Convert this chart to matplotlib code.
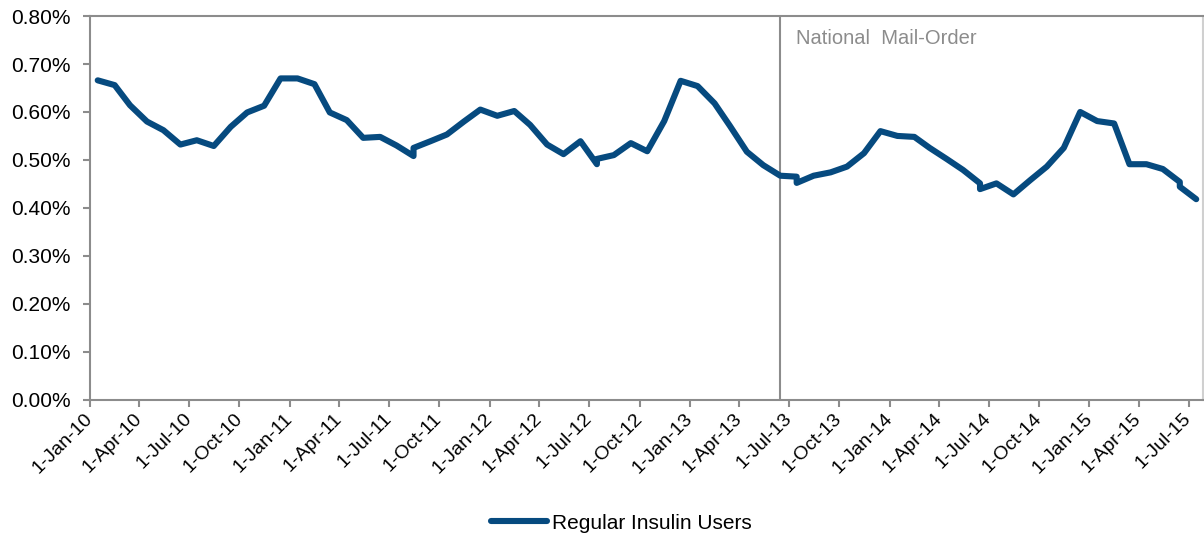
import datetime as dt
import matplotlib
matplotlib.use("Agg")
import matplotlib.pyplot as plt
import matplotlib.dates as mdates
from matplotlib.ticker import FuncFormatter

plt.rcParams["font.family"] = ["Liberation Sans", "DejaVu Sans"]

# Monthly rates (%) for regular insulin users; months with two readings
# (plan changeover) are listed twice
months = [
    "2010-01", "2010-02", "2010-03", "2010-04", "2010-05", "2010-06",
    "2010-07", "2010-08", "2010-09", "2010-10", "2010-11", "2010-12",
    "2011-01", "2011-02", "2011-03", "2011-04", "2011-05", "2011-06",
    "2011-07", "2011-08", "2011-08", "2011-09", "2011-10", "2011-11", "2011-12",
    "2012-01", "2012-02", "2012-03", "2012-04", "2012-05", "2012-06",
    "2012-07", "2012-07", "2012-08", "2012-09", "2012-10", "2012-11", "2012-12",
    "2013-01", "2013-02", "2013-03", "2013-04", "2013-05", "2013-06",
    "2013-07", "2013-07", "2013-08", "2013-09", "2013-10", "2013-11", "2013-12",
    "2014-01", "2014-02", "2014-03", "2014-04", "2014-05",
    "2014-06", "2014-06", "2014-07", "2014-08", "2014-09", "2014-10", "2014-11", "2014-12",
    "2015-01", "2015-02", "2015-03", "2015-04", "2015-05",
    "2015-06", "2015-06", "2015-07",
]
rates = [
    0.666, 0.656, 0.614, 0.580, 0.562, 0.532,
    0.541, 0.529, 0.569, 0.599, 0.613, 0.670,
    0.670, 0.658, 0.599, 0.583, 0.546, 0.548,
    0.530, 0.508, 0.525, 0.539, 0.553, 0.580, 0.605,
    0.592, 0.602, 0.573, 0.532, 0.512, 0.539,
    0.491, 0.502, 0.510, 0.535, 0.518, 0.581, 0.665,
    0.654, 0.618, 0.571, 0.517, 0.489, 0.467,
    0.465, 0.452, 0.467, 0.474, 0.486, 0.514, 0.560,
    0.550, 0.548, 0.525, 0.502, 0.479,
    0.451, 0.439, 0.451, 0.428, 0.458, 0.486, 0.525, 0.600,
    0.581, 0.576, 0.491, 0.491, 0.481,
    0.454, 0.444, 0.418,
]
series_name = "Regular Insulin Users"
event_label = "National  Mail-Order"
event_date = dt.date(2013, 6, 15)

dates = [dt.date(int(m[:4]), int(m[5:]), 15) for m in months]
values = [r / 100 for r in rates]

fig = plt.figure(figsize=(12.04, 5.37), dpi=100)
ax = fig.add_axes([0.0748, 0.256, 0.9242, 0.714])

ax.plot(dates, values, color="#064a7f", linewidth=4.4,
        solid_joinstyle="round", solid_capstyle="round", label=series_name)

ax.axvline(event_date, color="#8c8c8c", linewidth=1.5, zorder=1)
ax.text(mdates.date2num(event_date) + 29, 0.00754, event_label,
        color="#8c8c8c", fontsize=14.5, va="center", ha="left")

ax.set_ylim(0, 0.008)
ax.set_yticks([i * 0.001 for i in range(9)])
ax.yaxis.set_major_formatter(FuncFormatter(lambda v, _: f"{v * 100:.2f}%"))

ax.set_xlim(dt.date(2010, 1, 1), dt.date(2015, 7, 27))
ax.xaxis.set_major_locator(mdates.MonthLocator(bymonth=[1, 4, 7, 10]))
ax.xaxis.set_major_formatter(FuncFormatter(
    lambda v, _: "1-" + mdates.num2date(v).strftime("%b-%y")))

ax.tick_params(axis="both", colors="#8c8c8c", labelcolor="black",
               labelsize=15, length=5, width=1.5)
ax.tick_params(axis="y", pad=9)
ax.tick_params(axis="x", pad=7, labelsize=14)

for label in ax.get_xticklabels():
    label.set_rotation(45)
    label.set_ha("right")
    label.set_va("center")
    label.set_rotation_mode("anchor")

for spine in ax.spines.values():
    spine.set_color("#8c8c8c")
    spine.set_linewidth(1.5)
ax.spines["right"].set_color("#d0d0d0")

fig.legend(loc="center", bbox_to_anchor=(0.516, 0.026), frameon=False,
           fontsize=15, handlelength=2.7, handletextpad=0.25)

fig.savefig("out.png", dpi=100)
